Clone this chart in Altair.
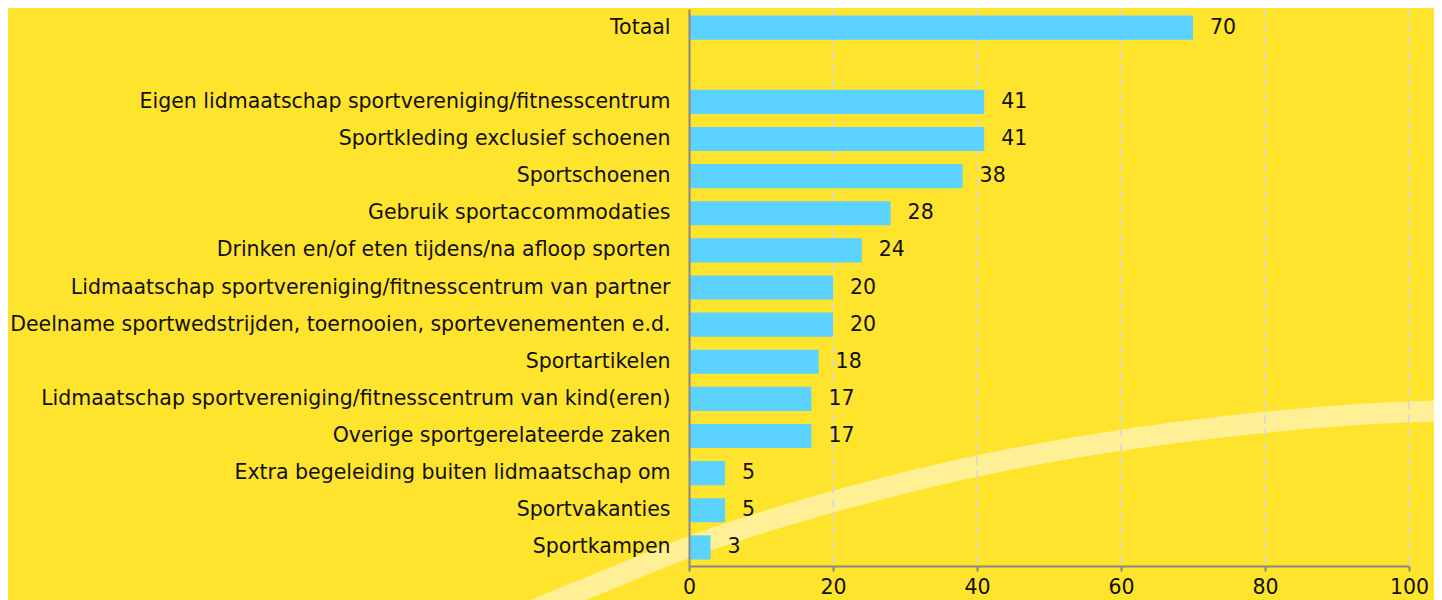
import altair as alt
import pandas as pd

categories = [
    "Totaal",
    "",
    "Eigen lidmaatschap sportvereniging/fitnesscentrum",
    "Sportkleding exclusief schoenen",
    "Sportschoenen",
    "Gebruik sportaccommodaties",
    "Drinken en/of eten tijdens/na afloop sporten",
    "Lidmaatschap sportvereniging/fitnesscentrum van partner",
    "Deelname sportwedstrijden, toernooien, sportevenementen e.d.",
    "Sportartikelen",
    "Lidmaatschap sportvereniging/fitnesscentrum van kind(eren)",
    "Overige sportgerelateerde zaken",
    "Extra begeleiding buiten lidmaatschap om",
    "Sportvakanties",
    "Sportkampen",
]
values = [70, None, 41, 41, 38, 28, 24, 20, 20, 18, 17, 17, 5, 5, 3]
labels = ["70", "", "41", "41", "38", "28", "24", "20", "20", "18", "17", "17", "5", "5", "3"]
grid_values = [20, 40, 60, 80, 100]
x_ticks = [0, 20, 40, 60, 80, 100]

# decorative background swoosh (x in axis units, y in pixel rows of the page)
swoosh_x = [-23.5, -17.9, -12.4, 0, 22.4, 40, 57.1, 79.7, 99.7, 105.7]
swoosh_y = [616, 599, 583, 547, 497, 466, 443.5, 422.5, 412, 411]

FONT = "DejaVu Sans"
FS = 20.5
BG = "#FFE42E"
BLUE = "#5CD3FF"

df = pd.DataFrame({"cat": categories, "val": values, "lab": labels})
df_bars = df[df["cat"] != ""]
grid_df = pd.DataFrame({"g": grid_values})
sw_df = pd.DataFrame({"x": swoosh_x, "y": swoosh_y, "o": list(range(len(swoosh_x)))})

xscale = alt.Scale(domain=[0, 100], nice=False, zero=True)
yscale = alt.Scale(domain=categories, paddingInner=0.35, paddingOuter=0.175)
xaxis = alt.Axis(
    values=x_ticks, title=None, grid=False, domainColor="#888888", domainWidth=2,
    tickColor="#888888", tickWidth=2, tickSize=5, labelFontSize=FS, labelFont=FONT,
    labelColor="#111111", labelPadding=6, labelFlush=False,
)

swoosh = alt.Chart(sw_df).mark_line(
    color="#FFF096", strokeWidth=21, interpolate="monotone", clip=False
).encode(
    x=alt.X("x:Q", scale=xscale, axis=xaxis),
    y=alt.Y("y:Q", scale=alt.Scale(domain=[9, 566], reverse=True, nice=False, zero=False), axis=None),
    order="o:Q",
)

grid = alt.Chart(grid_df).mark_rule(
    color="#D5D5E2", strokeWidth=1.5, strokeDash=[8, 6]
).encode(x=alt.X("g:Q", scale=xscale, axis=xaxis))

bars = alt.Chart(df_bars).mark_bar(color=BLUE).encode(
    x=alt.X("val:Q", scale=xscale, axis=xaxis),
    y=alt.Y(
        "cat:N",
        scale=yscale,
        sort=categories,
        axis=alt.Axis(
            title=None, ticks=False, domainColor="#888888", domainWidth=2, labelFontSize=FS,
            labelFont=FONT, labelColor="#111111", labelPadding=19, labelLimit=1000, zindex=1,
        ),
    ),
)

text = alt.Chart(df_bars).mark_text(
    align="left", baseline="middle", dx=17, fontSize=FS, font=FONT, color="#111111"
).encode(
    x=alt.X("val:Q", scale=xscale, axis=xaxis),
    y=alt.Y("cat:N", scale=yscale, sort=categories),
    text="lab:N",
)

front = alt.layer(grid, bars, text)

chart = alt.layer(swoosh, front).resolve_scale(y="independent").properties(
    width=720,
    height=557,
    padding={"left": 681, "top": 1, "right": 25, "bottom": 34},
    autosize=alt.AutoSizeParams(type="none"),
    background=BG,
).configure_view(stroke=None)

chart.save("out.html", embed_options={"renderer": "svg", "actions": False})
